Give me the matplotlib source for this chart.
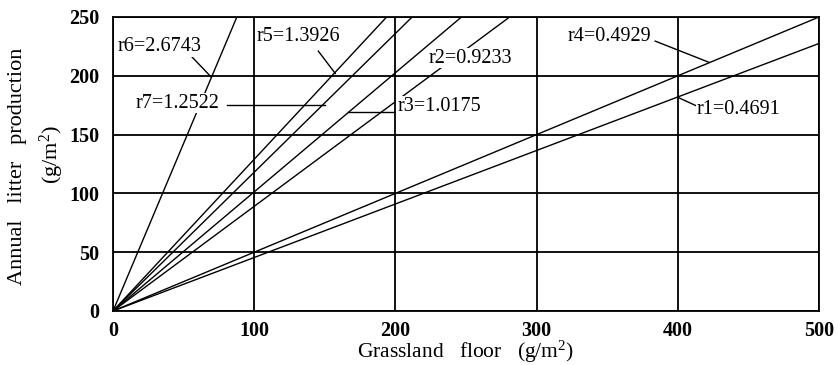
import matplotlib
matplotlib.use("Agg")
from matplotlib import pyplot as plt

plt.rcParams['font.family'] = ['Liberation Serif', 'DejaVu Serif']
plt.rcParams['mathtext.fontset'] = 'custom'
plt.rcParams['mathtext.rm'] = 'Liberation Serif'
plt.rcParams['mathtext.it'] = 'Liberation Serif:italic'

#----------Data: litter vs grassland floor (lines through origin)-----------#
names = ['r1', 'r2', 'r3', 'r4', 'r5', 'r6', 'r7']
r_values = ['0.4691', '0.9233', '1.0175', '0.4929', '1.3926', '2.6743', '1.2522']
# slopes as drawn in the figure
slopes = [0.455, 0.89, 1.013, 0.50, 1.29, 2.85, 1.18]

floor_x = [0, 500]
x_ticks = [0, 100, 200, 300, 400, 500]
y_ticks = [0, 50, 100, 150, 200, 250]

#----------Figure----------#
fig = plt.figure(figsize=(8.38, 3.65), dpi=100)
ax = fig.add_axes([113/838, 1 - 311/365, (819 - 113)/838, (311 - 17)/365])

for s in slopes:
    ax.plot(floor_x, [s * v for v in floor_x], color='black', lw=1.0,
            solid_capstyle='butt', zorder=2)

ax.set_xlim(0, 500)
ax.set_ylim(0, 250)
ax.set_xticks(x_ticks)
ax.set_yticks(y_ticks)
ax.grid(True, color='black', lw=1.3)
ax.tick_params(length=0, labelsize=14.5)
ax.tick_params(axis='x', pad=7)
ax.tick_params(axis='y', pad=10)
for lab in ax.get_xticklabels() + ax.get_yticklabels():
    lab.set_fontweight('bold')
for sp in ax.spines.values():
    sp.set_linewidth(1.3)

#----------Labels on the lines----------#
# (name index, text centre, leader start, leader end)
label_spots = [
    (5, (33, 225), (56, 216), (69.5, 199)),
    (4, (131.5, 233), (145.4, 221), (157.4, 202)),
    (6, (45.7, 176.6), (81, 175), (150, 175)),
    (2, (230.8, 174), (200, 169), (166.7, 169)),
    (1, (252.8, 215), None, None),
    (3, (351.4, 233), (384, 229.5), (422, 211.5)),
    (0, (443, 171.5), (414, 174), (400, 181.7)),
]
for i, pos, p0, p1 in label_spots:
    ax.text(pos[0], pos[1], names[i] + '=' + r_values[i], fontsize=14.5,
            ha='center', va='center', zorder=5,
            bbox=dict(facecolor='white', edgecolor='none', pad=0.5))
    if p0 is not None:
        ax.plot([p0[0], p1[0]], [p0[1], p1[1]], color='black', lw=1.0, zorder=4)

#----------Axis titles----------#
fig.text(0.5 * (113 + 819) / 838, 7 / 365, 'Grassland   floor   (g/m$^2$)',
         fontsize=15.5, ha='center', va='baseline')
fig.text(18 / 838, 1 - 166 / 365, 'Annual   litter   production',
         fontsize=16, ha='center', va='center', rotation=90)
fig.text(52 / 838, 1 - 155 / 365, '(g/m$^2$)',
         fontsize=16, ha='center', va='center', rotation=90)

fig.savefig('out.png', dpi=100)
